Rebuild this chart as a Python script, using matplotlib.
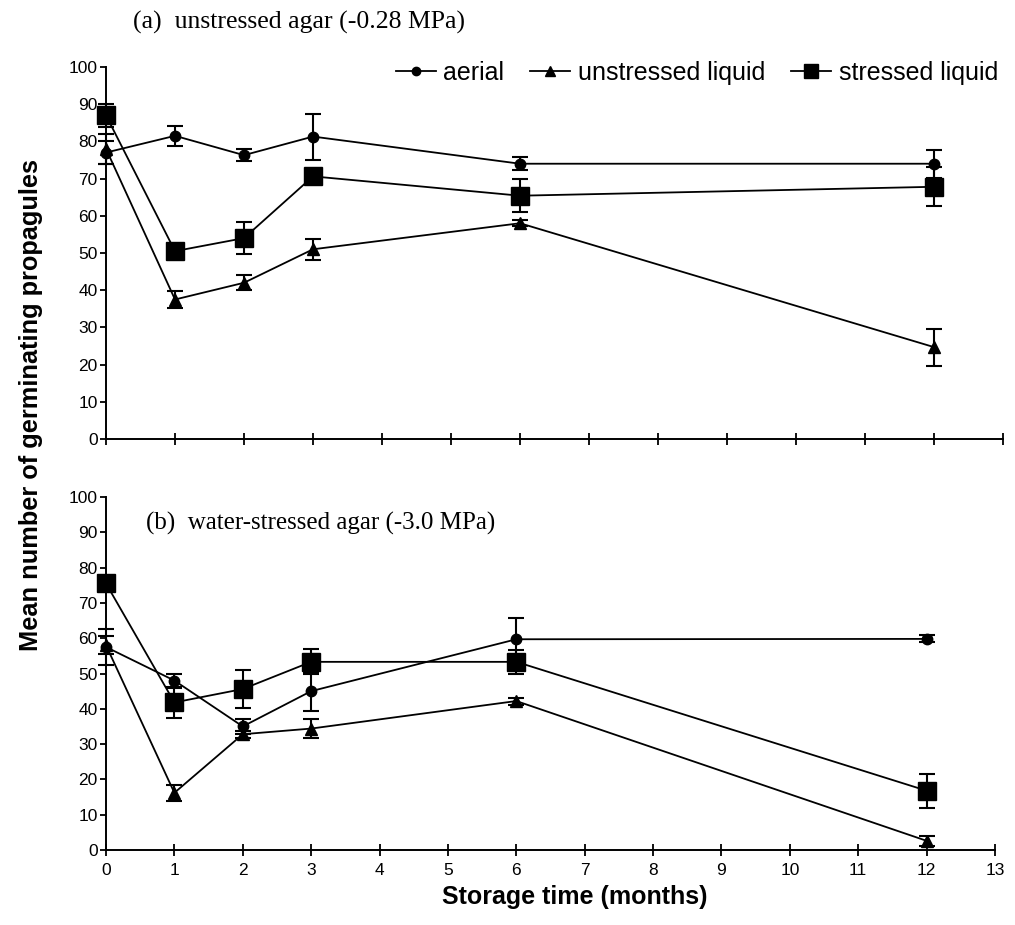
import matplotlib
matplotlib.use("Agg")
import matplotlib.pyplot as plt
from matplotlib.lines import Line2D

# ---------------- data ----------------
months = [0, 1, 2, 3, 6, 12]

# (a) unstressed agar
a_aerial = [77.0, 81.5, 76.3, 81.3, 74.0, 74.0]
a_aerial_err = [3.0, 2.7, 1.6, 6.2, 1.8, 3.8]
a_unstressed = [78.0, 37.5, 42.0, 51.0, 58.0, 24.7]
a_unstressed_err = [4.0, 2.4, 2.0, 2.8, 0.8, 5.0]
a_stressed = [87.0, 50.5, 54.0, 70.6, 65.4, 67.8]
a_stressed_err = [3.0, 1.0, 4.3, 1.0, 4.4, 5.2]

# (b) water-stressed agar
b_aerial = [57.5, 48.0, 35.0, 45.0, 59.7, 59.8]
b_aerial_err = [5.0, 2.0, 2.2, 5.5, 6.0, 1.0]
b_unstressed = [58.0, 16.2, 32.8, 34.4, 42.2, 2.6]
b_unstressed_err = [2.5, 2.3, 1.0, 2.7, 1.0, 1.5]
b_stressed = [75.5, 41.8, 45.6, 53.3, 53.3, 16.8]
b_stressed_err = [2.0, 4.5, 5.3, 3.5, 3.4, 4.8]

series_names = ["aerial", "unstressed liquid", "stressed liquid"]
title_a = "(a)  unstressed agar (-0.28 MPa)"
title_b = "(b)  water-stressed agar (-3.0 MPa)"
xlabel = "Storage time (months)"
ylabel = "Mean number of germinating propagules"
xticks = list(range(0, 14))
yticks = list(range(0, 101, 10))

# ---------------- style ----------------
SANS = ["Liberation Sans", "DejaVu Sans"]
SERIF = ["Liberation Serif", "DejaVu Serif"]
plt.rcParams["font.family"] = SANS

W, H = 1015, 925
fig = plt.figure(figsize=(W / 100, H / 100), dpi=100)

def fx(px):
    return px / W

def fy(py):
    return 1 - py / H

ax_a = fig.add_axes([fx(106), fy(439), fx(1003) - fx(106), fy(67) - fy(439)])
ax_b = fig.add_axes([fx(106), fy(850), fx(995) - fx(106), fy(497) - fy(850)])

markers = ["o", "^", "s"]
msizes = [7.5, 9, 13]

def draw(ax, vals, errs):
    handles = []
    for v, e, m, ms in zip(vals, errs, markers, msizes):
        cont = ax.errorbar(months, v, yerr=e, color="black", marker=m,
                           markersize=ms, linewidth=1.3, elinewidth=1.5,
                           capsize=5.5, capthick=1.5, clip_on=False, zorder=3)
        handles.append(cont[0])
    ax.set_xlim(0, 13)
    ax.set_ylim(0, 100)
    ax.set_xticks(xticks)
    ax.set_yticks(yticks)
    for s in ("top", "right"):
        ax.spines[s].set_visible(False)
    for s in ("left", "bottom"):
        ax.spines[s].set_linewidth(1.4)
    ax.tick_params(axis="x", direction="inout", length=9, width=1.3,
                   labelsize=12.5, pad=5)
    ax.tick_params(axis="y", direction="out", length=4, width=1.3,
                   labelsize=12.5, pad=2)
    return handles

draw(ax_a, [a_aerial, a_unstressed, a_stressed],
     [a_aerial_err, a_unstressed_err, a_stressed_err])
draw(ax_b, [b_aerial, b_unstressed, b_stressed],
     [b_aerial_err, b_unstressed_err, b_stressed_err])
ax_a.tick_params(axis="x", labelbottom=False)

leg_handles = [Line2D([], [], color="black", marker=m, markersize=ms * 0.8,
                      linewidth=1.3) for m, ms in zip(markers, msizes)]
fig.legend(leg_handles, series_names, loc="upper right", ncol=3,
           frameon=False, fontsize=18, handlelength=1.6,
           handletextpad=0.3, columnspacing=1.05, borderaxespad=0,
           borderpad=0, bbox_to_anchor=(fx(998), fy(61)),
           bbox_transform=fig.transFigure)

fig.text(fx(133), fy(22), title_a, family=SERIF, fontsize=18.5,
         ha="left", va="center")
ax_b.text(0.585, 92.6, title_b, family=SERIF, fontsize=18,
          ha="left", va="center")

fig.text(fx(575), fy(897), xlabel, fontsize=18, fontweight="bold",
         ha="center", va="center")
fig.text(fx(31), fy(405), ylabel, fontsize=18.3, fontweight="bold",
         ha="center", va="center", rotation=90)

fig.savefig("out.png", dpi=100)
